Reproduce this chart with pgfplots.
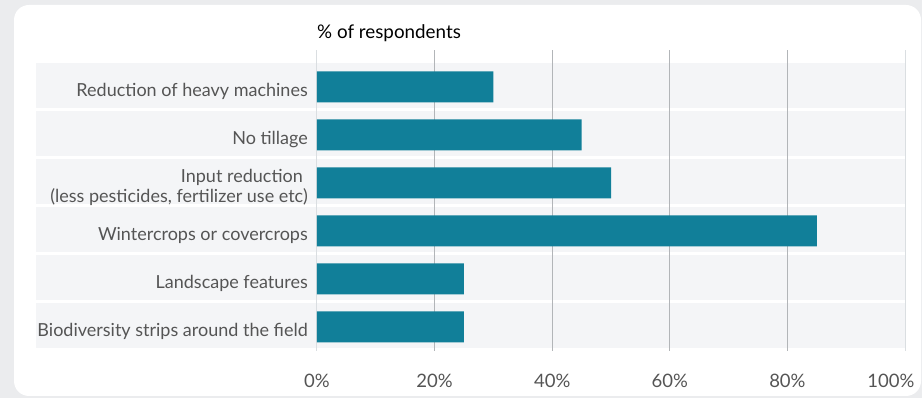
\documentclass[border=0pt]{standalone}
\usepackage{fontspec}
\setmainfont{Lato}
\usepackage{pgfplots}
\pgfplotsset{compat=1.18}
\definecolor{barc}{HTML}{117F99}
\definecolor{outerbg}{HTML}{EBECEE}
\definecolor{bandc}{HTML}{F4F5F7}
\definecolor{gridc}{HTML}{B2B5B8}
\definecolor{gridl}{HTML}{DADEE1}
\definecolor{labc}{HTML}{555555}
\begin{document}
\begin{tikzpicture}
\useasboundingbox (0pt,0pt) rectangle (922pt,398pt);
\fill[outerbg] (0pt,0pt) rectangle (922pt,398pt);
\fill[white, rounded corners=15pt] (14pt,2pt) rectangle (921pt,393pt);
\foreach \i in {0,...,5} {
  \fill[bandc] (36pt,{(398-63-48*\i)*1pt}) rectangle (905pt,{(398-108.5-48*\i)*1pt});
}
\begin{axis}[
  at={(317pt,47pt)}, anchor=south west,
  scale only axis, width=588pt, height=301pt,
  xmin=0, xmax=100, ymin=-0.5, ymax=5.77,
  xbar, bar width=31pt,
  axis line style={draw=none},
  major tick length=0pt,
  xmajorgrids, grid style={color=gridc, line width=1pt},
  xtick={20,40,60,80},
  xticklabels={20\%,40\%,60\%,80\%},
  extra x ticks={0,100},
  extra x tick labels={0\%,{\makebox[0pt][c]{\hspace*{-28pt}100\%}}},
  extra x tick style={grid style={color=gridl, line width=1pt}},
  ytick={0,...,5},
  yticklabels={Biodiversity strips around the field, Landscape features, Wintercrops or covercrops, {Input reduction\hspace*{5pt}\\(less pesticides, fertilizer use etc)}, No tillage, Reduction of heavy machines},
  yticklabel style={align=right, inner sep=0pt, anchor=east, xshift=-9pt, yshift=-4.5pt, text=labc, font=\fontsize{18}{20}\selectfont},
  xticklabel style={inner sep=0pt, anchor=north, yshift=-23pt, text=labc, font=\fontsize{18.5}{20}\selectfont},
]
\addplot[fill=barc, draw=none] coordinates {(25,0) (25,1) (85,2) (50,3) (45,4) (30,5)};
\end{axis}
\node[anchor=base west, inner sep=0pt, font=\fontsize{18.8}{20}\selectfont] at (317pt,359pt) {\% of respondents};
\end{tikzpicture}
\end{document}
